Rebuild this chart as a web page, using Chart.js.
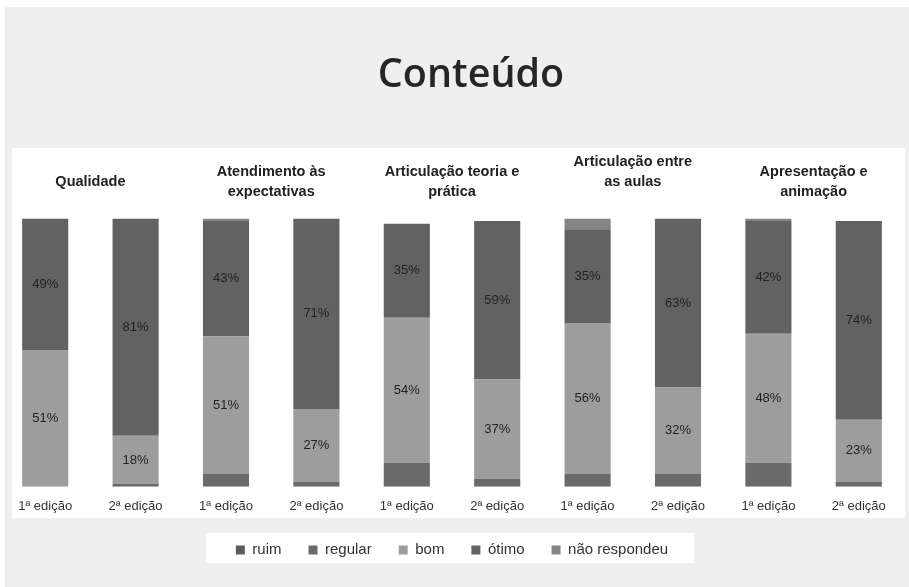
<!DOCTYPE html>
<html>
<head>
<meta charset="utf-8">
<script src="https://cdn.jsdelivr.net/npm/chart.js@4"></script>
<style>
  html, body { margin:0; padding:0; background:#fff; }
  #wrap { position:relative; width:909px; height:587px; overflow:hidden; }
  #chart { position:absolute; left:0; top:0; }
  #title { position:absolute; left:0; width:942px; top:45px; text-align:center;
    font-family:"Open Sans", sans-serif; font-weight:600; font-size:39.5px; color:#262626; line-height:54px; }
</style>
</head>
<body>
<div id="wrap">
  <canvas id="chart" width="909" height="587"></canvas>
  <div id="title">Conteúdo</div>
</div>
<script>
// categories
const edicoes = ['1ª edição','2ª edição','1ª edição','2ª edição','1ª edição','2ª edição','1ª edição','2ª edição','1ª edição','2ª edição'];
const grupos = ['Qualidade', ['Atendimento às','expectativas'], ['Articulação teoria e','prática'], ['Articulação entre','as aulas',''], ['Apresentação e','animação']];

// series (%)
const ruim    = [0, 0, 0, 0, 0, 0, 0, 0, 0, 0];
const regular = [0, 1, 5, 2, 9, 3, 5, 5, 9, 2];
const bom     = [51, 18, 51, 27, 54, 37, 56, 32, 48, 23];
const otimo   = [49, 81, 43, 71, 35, 59, 35, 63, 42, 74];
const naoResp = [0, 0, 1, 0, 0, 0, 4, 0, 1, 0];

const AXIS_FONT = '"Liberation Sans", Arial, sans-serif';

const backdrop = {
  id: 'backdrop',
  beforeDraw(chart){
    const c = chart.ctx;
    c.save();
    c.fillStyle = '#efefef';
    c.fillRect(5, 7, chart.width - 5, chart.height - 7);
    c.fillStyle = '#ffffff';
    c.fillRect(12, 148, 893, 370);
    const boxes = chart.legend.legendHitBoxes;
    if (boxes && boxes.length){
      const l = Math.min(...boxes.map(b=>b.left)) - 30;
      const r = Math.max(...boxes.map(b=>b.left + b.width)) + 26;
      c.fillRect(l, 533, r - l, 30);
    }
    c.restore();
  }
};

const valueLabels = {
  id: 'valueLabels',
  afterDatasetsDraw(chart){
    const c = chart.ctx;
    c.save();
    c.font = '13px ' + AXIS_FONT;
    c.fillStyle = '#222';
    c.textAlign = 'center';
    c.textBaseline = 'middle';
    chart.data.datasets.forEach((ds, di)=>{
      if (!ds.showValues) return;
      chart.getDatasetMeta(di).data.forEach((el, i)=>{
        const v = ds.data[i];
        if (!v) return;
        c.fillText(`${v}%`, el.x, (el.y + el.base) / 2);
      });
    });
    c.restore();
  }
};

new Chart(document.getElementById('chart'), {
  type: 'bar',
  data: {
    labels: edicoes,
    datasets: [
      { label: 'ruim', data: ruim, backgroundColor: '#5c5c5c' },
      { label: 'regular', data: regular, backgroundColor: '#6a6a6a' },
      { label: 'bom', data: bom, backgroundColor: '#9d9d9d', showValues: true },
      { label: 'ótimo', data: otimo, backgroundColor: '#626262', showValues: true },
      { label: 'não respondeu', data: naoResp, backgroundColor: '#858585' },
    ]
  },
  options: {
    responsive: false,
    animation: false,
    layout: { padding: { left: 0, right: 5, top: 125.5, bottom: 19.6 } },
    datasets: { bar: { barPercentage: 0.51, categoryPercentage: 1 } },
    plugins: {
      title: { display: false },
      tooltip: { enabled: false },
      legend: {
        position: 'bottom',
        labels: { boxWidth: 9, boxHeight: 9, padding: 27, color: '#333', font: { family: AXIS_FONT, size: 15 } }
      }
    },
    scales: {
      x: {
        stacked: true,
        grid: { display: false, drawTicks: false },
        border: { display: false },
        afterFit: s => { s.height -= 11; },
        ticks: { color: '#333', padding: 12, maxRotation: 0, autoSkip: false, font: { family: AXIS_FONT, size: 13 } }
      },
      x2: {
        type: 'category',
        position: 'top',
        labels: grupos,
        grid: { display: false, drawTicks: false },
        border: { display: false },
        ticks: { color: '#222', padding: 16, crossAlign: 'center', maxRotation: 0, autoSkip: false,
          font: { family: AXIS_FONT, size: 14.5, weight: 'bold', lineHeight: 1.4 } }
      },
      y: { stacked: true, display: false, min: 0, max: 100 }
    }
  },
  plugins: [backdrop, valueLabels]
});
</script>
</body>
</html>
